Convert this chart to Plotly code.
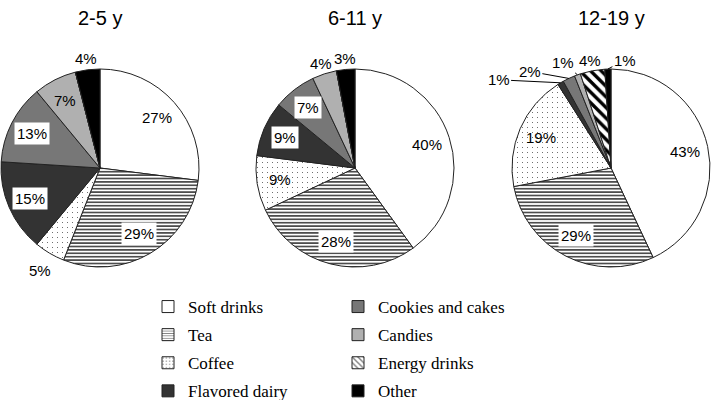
import math
import plotly.graph_objects as go

# ---------------- data ----------------
categories = ["Soft drinks", "Tea", "Coffee", "Flavored dairy",
              "Cookies and cakes", "Candies", "Energy drinks", "Other"]
age_groups = ["2-5 y", "6-11 y", "12-19 y"]
values_2_5 = [27, 29, 5, 15, 13, 7, 0, 4]
values_6_11 = [40, 28, 9, 9, 7, 4, 0, 3]
values_12_19 = [43, 29, 19, 1, 2, 1, 4, 1]
all_values = [values_2_5, values_6_11, values_12_19]

# ---------------- styles ----------------
W, H = 711, 400
fills = ["white", "white", "white", "#333333", "#777777", "#b0b0b0", "white", "black"]
pat_shapes = ["", "-", ".", "", "", "", "\\", ""]
pat_sizes = [6, 3.4, 5, 6, 6, 6, 7.5, 6]
pat_solid = [0.3, 0.35, 0.03, 0.3, 0.3, 0.3, 0.45, 0.3]
boxed = {1, 3, 4}  # labels with white background box when inside

centers_x = [100, 355, 611]
center_y = 168
radius = 99
inner_k = 0.77

# outside label specs per pie: idx -> ("out", k) or ("arrow", ax, ay)
outside = [
    {2: ("out", 1.2), 7: ("out", 1.11)},
    {5: ("out", 1.11), 7: ("out", 1.11)},
    {3: ("arrow", -62, -3), 4: ("arrow", -39, -7), 5: ("arrow", -14, -12),
     6: ("out", 1.11), 7: ("arrow", 17, -9)},
]

fig = go.Figure()
annotations = []

for p, vals in enumerate(all_values):
    cx = centers_x[p]
    dom_x = [(cx - radius) / W, (cx + radius) / W]
    dom_y = [1 - (center_y + radius) / H, 1 - (center_y - radius) / H]
    fig.add_trace(go.Pie(
        labels=categories, values=vals, sort=False, direction="clockwise",
        rotation=0, textinfo="none", hoverinfo="skip", showlegend=False,
        domain=dict(x=dom_x, y=dom_y),
        marker=dict(colors=fills, line=dict(color="#222222", width=1),
                    pattern=dict(shape=pat_shapes, fgcolor="black",
                                 size=pat_sizes, solidity=pat_solid)),
    ))
    # title
    annotations.append(dict(x=cx / W, y=1 - 18 / H, xref="paper", yref="paper",
                             xanchor="center", yanchor="middle",
                             text=age_groups[p], showarrow=False,
                             font=dict(family="Liberation Sans, Arial", size=20, color="black")))
    total = sum(vals)
    cum = 0
    for i, v in enumerate(vals):
        if v == 0:
            continue
        mid = (cum + v / 2) / total * 2 * math.pi
        cum += v
        spec = outside[p].get(i)
        font = dict(family="Liberation Sans, Arial", size=15, color="black")
        if spec is None:
            k = inner_k
            x = cx + radius * k * math.sin(mid)
            y = center_y - radius * k * math.cos(mid)
            ann = dict(x=x / W, y=1 - y / H, xref="paper", yref="paper",
                       xanchor="center", yanchor="middle",
                       text=f"{v}%", showarrow=False, font=font, borderpad=2)
            if i in boxed:
                ann["bgcolor"] = "white"
            annotations.append(ann)
        elif spec[0] == "out":
            k = spec[1]
            x = cx + radius * k * math.sin(mid)
            y = center_y - radius * k * math.cos(mid)
            annotations.append(dict(x=x / W, y=1 - y / H, xref="paper", yref="paper",
                                    xanchor="center", yanchor="middle",
                                    text=f"{v}%", showarrow=False, font=font))
        else:
            x = cx + radius * math.sin(mid)
            y = center_y - radius * math.cos(mid)
            annotations.append(dict(x=x / W, y=1 - y / H, xref="paper", yref="paper",
                                    xanchor="center", yanchor="middle",
                                    text=f"{v}%", showarrow=True, arrowhead=0,
                                    arrowwidth=1, arrowcolor="black", standoff=0,
                                    ax=spec[1], ay=spec[2], font=font))

# legend proxies
for i, cat in enumerate(categories):
    fig.add_trace(go.Bar(
        x=[0], y=[1], name=cat, legendgroup=cat, hoverinfo="skip",
        legend="legend" if i < 4 else "legend2",
        marker=dict(color=fills[i], line=dict(color="#222222", width=1),
                    pattern=dict(shape=pat_shapes[i], fgcolor="black",
                                 size=3 if pat_shapes[i] == "-" else (4 if pat_shapes[i] == "." else 5),
                                 solidity=0.35 if pat_shapes[i] != "." else 0.15)),
    ))

legend_common = dict(font=dict(family="Liberation Serif, Times New Roman", size=17, color="black"),
                     bgcolor="rgba(0,0,0,0)", yanchor="top", xanchor="left",
                     tracegroupgap=3, itemclick=False, itemdoubleclick=False)

fig.update_layout(
    width=W, height=H, margin=dict(l=0, r=0, t=0, b=0, autoexpand=False),
    paper_bgcolor="white", plot_bgcolor="white",
    xaxis=dict(visible=False, range=[5, 6]),
    yaxis=dict(visible=False, range=[5, 6]),
    annotations=annotations,
    legend=dict(x=148 / W, y=1 - 289 / H, **legend_common),
    legend2=dict(x=338 / W, y=1 - 289 / H, **legend_common),
)

fig.write_html("out.html", config={"displayModeBar": False},
               post_script="document.body.style.margin='0';document.body.style.overflow='hidden';")
